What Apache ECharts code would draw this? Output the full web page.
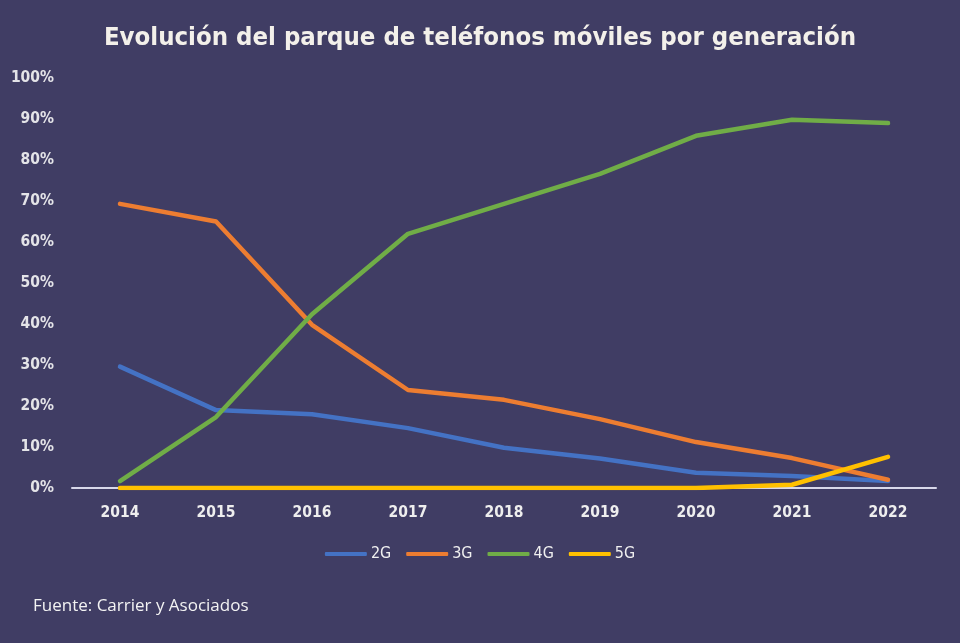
<!DOCTYPE html>
<html><head><meta charset="utf-8">
<script src="https://cdn.jsdelivr.net/npm/echarts@6/dist/echarts.min.js"></script>
<style>html,body{margin:0;padding:0;background:#403d64}#c{width:960px;height:643px}</style>
</head><body><div id="c"></div>
<script>
const years = ['2014','2015','2016','2017','2018','2019','2020','2021','2022'];
const s2G = [29.6, 19.0, 18.0, 14.6, 9.8, 7.2, 3.7, 2.9, 1.7];
const s3G = [69.3, 65.0, 39.8, 23.9, 21.5, 16.8, 11.2, 7.3, 2.0];
const s4G = [1.7, 17.3, 42.4, 62.0, 69.3, 76.6, 85.9, 89.8, 89.0];
const s5G = [0, 0, 0, 0, 0, 0, 0, 0.8, 7.6];
const font = '"DejaVu Sans Condensed", "Roboto Condensed", "DejaVu Sans", sans-serif';
const chart = echarts.init(document.getElementById('c'));
function line(name, data, color){
  return {name, type:'line', data, symbol:'none', smooth:false,
    lineStyle:{width:4.5, color, cap:'round', join:'round'}, itemStyle:{color}};
}
chart.setOption({
  backgroundColor:'#403d64',
  animation:false,
  title:{text:'Evolución del parque de teléfonos móviles por generación', left:'center', top:20,
    textStyle:{color:'#f3f0ea', fontSize:25.5, fontWeight:'bold', fontFamily:font}},
  grid:{left:72, right:24, top:78, bottom:155},
  legend:{top:541, left:'center', itemWidth:42, itemHeight:4, itemGap:15, icon:'roundRect',
    textStyle:{color:'#f0f0f0', fontSize:16, fontFamily:font, padding:[0,0,0,-1]},
    data:['2G','3G','4G','5G']},
  xAxis:{type:'category', data:years, boundaryGap:true,
    axisLine:{lineStyle:{color:'#d8d8ea', width:2}}, axisTick:{show:false},
    axisLabel:{color:'#eeeeee', fontSize:15.5, fontFamily:font, fontWeight:'bold', margin:17}},
  yAxis:{type:'value', min:0, max:100, interval:10,
    axisLine:{show:false}, axisTick:{show:false}, splitLine:{show:false},
    axisLabel:{color:'#e4e4e8', fontSize:15.5, fontFamily:font, fontWeight:'bold', margin:18, formatter:'{value}%'}},
  graphic:[{type:'text', left:33, top:598, style:{text:'Fuente: Carrier y Asociados', fill:'#f3f3f3', fontSize:17, fontFamily:'"Open Sans", "Liberation Sans", sans-serif'}}],
  series:[line('2G', s2G, '#4472c4'), line('3G', s3G, '#ed7d31'), line('4G', s4G, '#70ad47'), line('5G', s5G, '#ffc000')]
});
</script></body></html>
